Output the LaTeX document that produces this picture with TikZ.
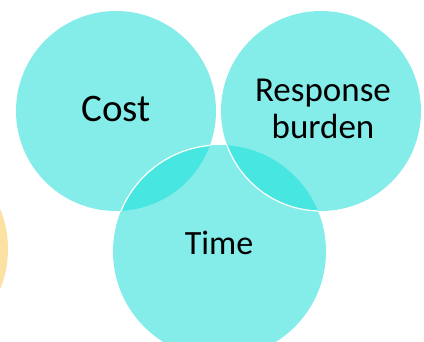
\documentclass[tikz,border=0pt]{standalone}
\usepackage{fontspec}
\setmainfont{Carlito}
\definecolor{setcyan}{RGB}{132,237,234}
\definecolor{setdark}{RGB}{72,230,224}
\definecolor{setorange}{RGB}{251,225,162}
\begin{document}
\begin{tikzpicture}[x=1pt,y=-1pt]
\useasboundingbox (0,0) rectangle (424,342);

% Side set, mostly off the page
\node [circle,
	fill=setorange,
	inner sep=0pt,
	minimum size =212pt] (D) at (-98,249){};

% Set Cost
\node [circle,
	fill=setcyan,
	inner sep=0pt,
	minimum size =200pt] (A) at (116,111){};

% Set Response burden
\node [circle,
	fill=setcyan,
	inner sep=0pt,
	minimum size =200pt] (B) at (321,111){};

% Set Time
\node [circle,
	fill=setcyan,
	inner sep=0pt,
	minimum size =213pt] (C) at (219.5,251.5){};

\scope % A \cap C
\clip (A.center) circle (100pt);
\fill[setdark] (C.center) circle (106.5pt);
\draw[white, line width=1.2pt] (C.center) circle (106.5pt);
\endscope

\scope % B \cap C
\clip (B.center) circle (100pt);
\fill[setdark] (C.center) circle (106.5pt);
\endscope

\scope % edge of B inside C
\clip (C.center) circle (106.5pt);
\draw[white, line width=1.2pt] (B.center) circle (100pt);
\endscope

% Set labels
\node [anchor=base, font=\fontsize{39}{47}\selectfont] (costlabel) at (116,122) {Cost};
\node [align=center, font=\fontsize{35}{37}\selectfont] (burdenlabel) at (323,108.5)
	{Response\\burden};
\node [anchor=base, font=\fontsize{34}{40}\selectfont] (timelabel) at (219,255) {Time};

\end{tikzpicture}
\end{document}
